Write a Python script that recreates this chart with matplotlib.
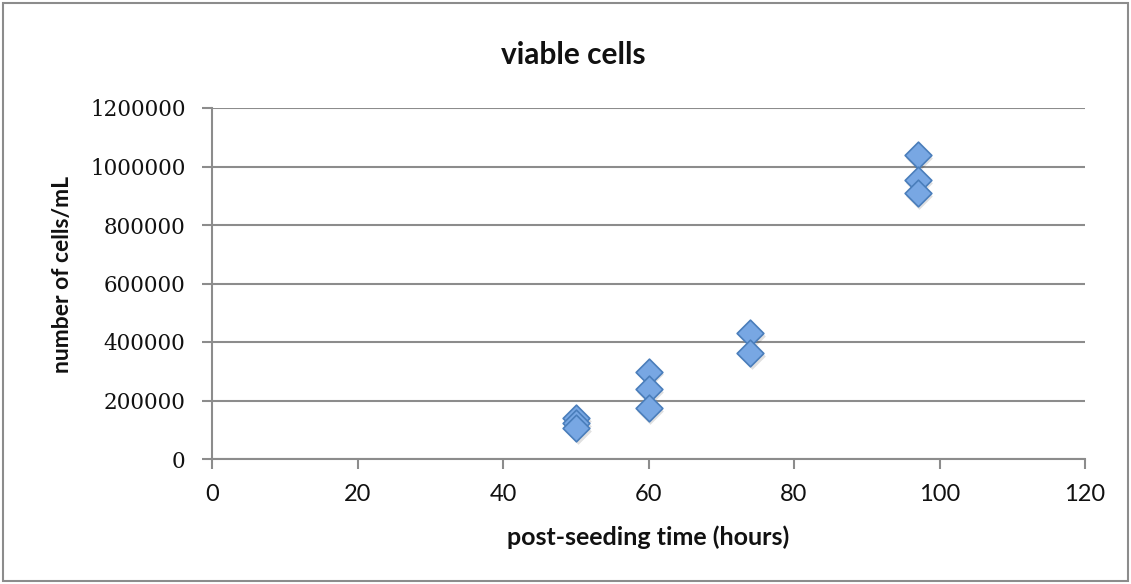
import matplotlib
matplotlib.use('Agg')
import matplotlib.pyplot as plt
from matplotlib.patches import Rectangle

hours = [50, 50, 50, 60, 60, 60, 74, 74, 97, 97, 97]
cells = [140000, 122000, 105000, 298000, 238000, 173000, 430000, 361000, 1039000, 954000, 908000]
x_ticks = [0, 20, 40, 60, 80, 100, 120]
y_ticks = [0, 200000, 400000, 600000, 800000, 1000000, 1200000]

fig = plt.figure(figsize=(11.31, 5.84), dpi=100)
fig.set_facecolor('w')
ax = fig.add_axes([212/1131, 1 - 459/584, (1085-212)/1131, (459-108)/584])

grid_c = '#8c8c8c'
ax.set_xlim(0, 120)
ax.set_ylim(0, 1200000)
ax.set_xticks(x_ticks)
ax.set_yticks(y_ticks)
ax.set_yticklabels([str(v) for v in y_ticks])
ax.yaxis.grid(True, color=grid_c, lw=1.5)
ax.set_axisbelow(True)
for s in ['top', 'right']:
    ax.spines[s].set_visible(False)
for s in ['left', 'bottom']:
    ax.spines[s].set_color(grid_c)
    ax.spines[s].set_linewidth(1.5)
ax.tick_params(direction='out', length=7, width=1.5, color=grid_c)
ax.tick_params(axis='y', labelsize=15.5, pad=12)
ax.tick_params(axis='x', labelsize=17, pad=11)
for lab in ax.get_yticklabels():
    lab.set_family('DejaVu Serif')
    lab.set_color('#111111')
for lab in ax.get_xticklabels():
    lab.set_family('Lato')
    lab.set_color('#111111')

# soft shadow then markers
ax.scatter([h + 0.25 for h in hours], [c - 9000 for c in cells], marker='D', s=185,
           color='#000000', alpha=0.12, lw=0, zorder=2)
ax.scatter(hours, cells, marker='D', s=185, facecolor='#78a7e3',
           edgecolor='#4a7ebb', lw=1.2, zorder=3)

ax.set_xlabel('post-seeding time (hours)', family='Lato', weight='bold',
              size=18, color='#111111')
ax.set_ylabel('number of cells/mL', family='Lato', weight='bold',
              size=16.5, color='#111111')
ax.xaxis.set_label_coords(0.5, -0.19)
ax.yaxis.set_label_coords(-0.159, 0.527)
fig.text(573/1131, 1 - 55/584, 'viable cells', ha='center', va='center',
         family='Lato', weight='bold', size=21.5, color='#111111')

fig.patches.append(Rectangle((3/1131, 3/584), 1 - 6/1131, 1 - 6/584,
                             transform=fig.transFigure, fill=False,
                             edgecolor='#8c8c8c', lw=1.5))

plt.savefig('out.png', dpi=100)
